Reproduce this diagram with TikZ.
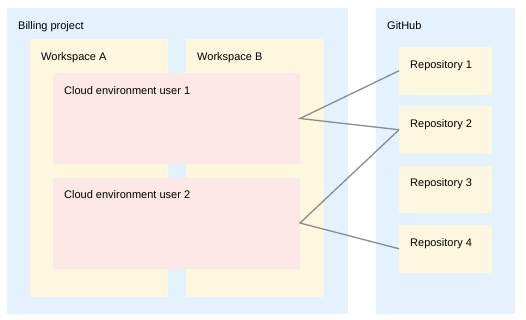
\documentclass[tikz,border=0pt]{standalone}
\usepackage{fontspec}
\setmainfont{Liberation Sans}
\usetikzlibrary{positioning}

\definecolor{areablue}{HTML}{E3F2FD}
\definecolor{wsyellow}{HTML}{FEF7E0}
\definecolor{envpink}{HTML}{FCE8E6}
\definecolor{linkgray}{HTML}{8C8C8C}

\begin{document}
\begin{tikzpicture}[
    x=1pt,
    y=-1pt,
    font=\fontsize{11}{13}\selectfont,
    box/.style={
        anchor=north west,
        inner sep=0pt,
        outer sep=0pt
    },
    title/.style={
        anchor=north west,
        inner sep=0pt,
        xshift=11pt,
        yshift=-13pt
    },
    area/.style={box, fill=areablue},
    ws/.style={box, fill=wsyellow, minimum width=138pt, minimum height=258pt},
    env/.style={box, fill=envpink, minimum width=247pt, minimum height=91pt},
    repo/.style={box, fill=wsyellow, minimum width=93pt, minimum height=47.5pt},
    link/.style={draw=linkgray, line width=1.3pt}
]
\useasboundingbox (0,0) rectangle (526,319);

% ============================================================
% PROJEKT ROZLICZENIOWY
% ============================================================
\node[area, minimum width=341pt, minimum height=305.5pt,
      label={[title]north west:Billing project}] (billing) at (7,8) {};

\node[ws, label={[title]north west:Workspace A}] (wsA) at (30,39) {};
\node[ws, label={[title]north west:Workspace B}] (wsB) at (186,39) {};

\node[env, label={[title]north west:Cloud environment user 1}] (env1) at (53,73) {};
\node[env, label={[title]north west:Cloud environment user 2}] (env2) at (53,177.5) {};

% ============================================================
% GITHUB
% ============================================================
\node[area, minimum width=139pt, minimum height=305.5pt,
      label={[title]north west:GitHub}] (github) at (376,8) {};

\node[repo, label={[title]north west:Repository 1}] (repo1) at (399,47) {};
\node[repo, below=11.5pt of repo1, label={[title]north west:Repository 2}] (repo2) {};
\node[repo, below=12pt of repo2, label={[title]north west:Repository 3}] (repo3) {};
\node[repo, below=12pt of repo3, label={[title]north west:Repository 4}] (repo4) {};

% ============================================================
% POŁĄCZENIA
% ============================================================
\draw[link] (repo1.west) -- (env1.east) -- (repo2.west);
\draw[link] (repo2.west) -- (env2.east) -- (repo4.west);

\end{tikzpicture}
\end{document}
